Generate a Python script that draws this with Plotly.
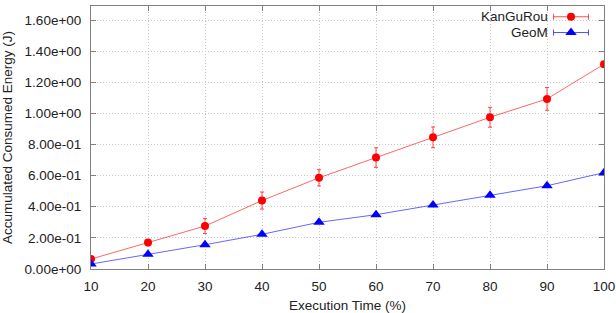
import plotly.graph_objects as go

x_pct = [10, 20, 30, 40, 50, 60, 70, 80, 90, 100]
kangurou = [0.064, 0.170, 0.276, 0.440, 0.586, 0.716, 0.846, 0.975, 1.093, 1.316]
kangurou_err = [0.010, 0.020, 0.048, 0.055, 0.052, 0.063, 0.067, 0.064, 0.073, 0.004]
geom = [0.032, 0.094, 0.156, 0.223, 0.300, 0.349, 0.411, 0.474, 0.535, 0.619]
geom_err = [0.003, 0.003, 0.003, 0.003, 0.003, 0.003, 0.003, 0.003, 0.003, 0.003]
y_tickvals = [0.0, 0.2, 0.4, 0.6, 0.8, 1.0, 1.2, 1.4, 1.6]
y_ticktext = ["0.00e+00", "2.00e-01", "4.00e-01", "6.00e-01", "8.00e-01",
              "1.00e+00", "1.20e+00", "1.40e+00", "1.60e+00"]
x_ticks = [10, 20, 30, 40, 50, 60, 70, 80, 90, 100]
series_names = ["KanGuRou", "GeoM"]

RED = "#ff0000"
BLUE = "#0000ff"
FONT = "Liberation Sans, Arial, sans-serif"

fig = go.Figure()
fig.add_trace(go.Scatter(
    x=x_pct, y=kangurou, mode="lines+markers", name=series_names[0],
    line=dict(color="rgba(255,0,0,0.6)", width=1),
    marker=dict(color=RED, size=8, symbol="circle"),
    error_y=dict(type="data", array=kangurou_err, visible=True, color="rgba(255,0,0,0.7)", thickness=1, width=2),
    showlegend=False))
fig.add_trace(go.Scatter(
    x=x_pct, y=geom, mode="lines+markers", name=series_names[1],
    line=dict(color="rgba(0,0,255,0.6)", width=1),
    marker=dict(color=BLUE, size=10, symbol="triangle-up"),
    error_y=dict(type="data", array=geom_err, visible=True, color="rgba(0,0,255,0.7)", thickness=1, width=2),
    showlegend=False))

# custom gnuplot-style legend (key samples on overlay axes)
legend_y = [0.959, 0.899]
legend_cols = [RED, BLUE]
legend_syms = ["circle", "triangle-up"]
legend_sizes = [8, 10]
for i in range(2):
    fig.add_trace(go.Scatter(
        x=[0.9357], y=[legend_y[i]], xaxis="x2", yaxis="y2", mode="markers",
        marker=dict(color=legend_cols[i], size=legend_sizes[i], symbol=legend_syms[i]),
        error_x=dict(type="constant", value=0.034, visible=True,
                     color="rgba(%d,%d,%d,0.7)" % ((255, 0, 0) if i == 0 else (0, 0, 255)),
                     thickness=1, width=3),
        showlegend=False, hoverinfo="skip"))
    fig.add_annotation(x=0.8947, y=legend_y[i], xref="x2", yref="y2",
                       text=series_names[i], showarrow=False, xanchor="right",
                       font=dict(size=13.5, color="#222", family=FONT))

axis_common = dict(
    showline=True, linecolor="#808080", linewidth=1, mirror="ticks",
    ticks="inside", ticklen=5, tickcolor="#808080",
    showgrid=True, gridcolor="#c8c8c8", griddash="1px,2px", gridwidth=1,
    zeroline=False, tickfont=dict(size=13.5, color="#222", family=FONT),
    automargin=False,
)

fig.update_layout(
    width=616, height=313,
    margin=dict(l=91, r=12, t=6, b=44),
    paper_bgcolor="white", plot_bgcolor="white",
    font=dict(family=FONT, color="#222"),
    xaxis=dict(range=[10, 100], tickvals=x_ticks, ticklabelstandoff=5,
               title=dict(text="Execution Time (%)", font=dict(size=13.5), standoff=8),
               **axis_common),
    yaxis=dict(range=[0, 1.69], tickvals=y_tickvals, ticktext=y_ticktext,
               ticklabelstandoff=6,
               title=dict(text="Accumulated Consumed Energy (J)", font=dict(size=13.5), standoff=10),
               **axis_common),
    xaxis2=dict(range=[0, 1], overlaying="x", anchor="y2", visible=False, fixedrange=True),
    yaxis2=dict(range=[0, 1], overlaying="y", anchor="x2", visible=False, fixedrange=True),
)

fig.write_html("out.html")
